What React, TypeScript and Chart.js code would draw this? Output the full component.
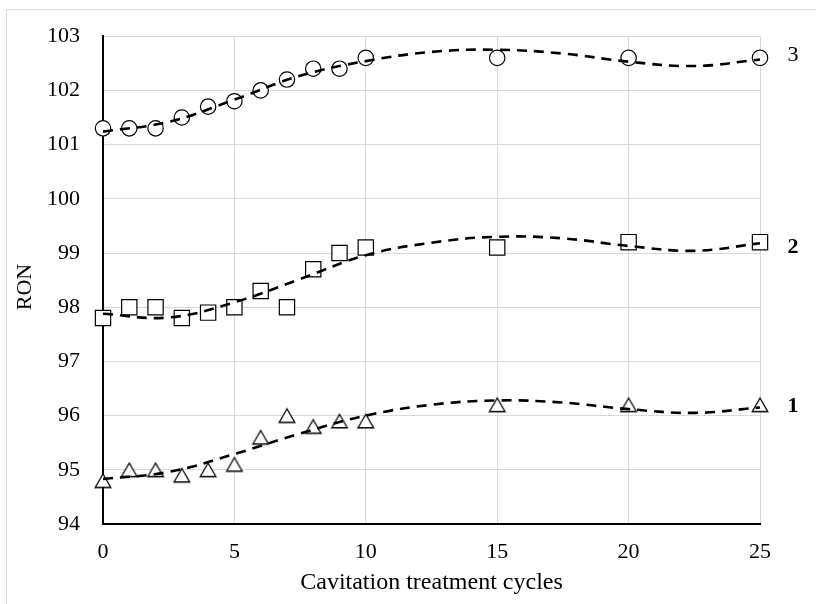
import { useEffect, useRef } from 'react';
import { Chart, registerables } from 'chart.js';

Chart.register(...registerables);

const cycles = [0, 1, 2, 3, 4, 5, 6, 7, 8, 9, 10, 15, 20, 25];
const ron1 = [94.8, 95.0, 95.0, 94.9, 95.0, 95.1, 95.6, 96.0, 95.8, 95.9, 95.9, 96.2, 96.2, 96.2];
const ron2 = [97.8, 98.0, 98.0, 97.8, 97.9, 98.0, 98.3, 98.0, 98.7, 99.0, 99.1, 99.1, 99.2, 99.2];
const ron3 = [101.3, 101.3, 101.3, 101.5, 101.7, 101.8, 102.0, 102.2, 102.4, 102.4, 102.6, 102.6, 102.6, 102.6];

const trendX = [0, 2.5, 5, 7.5, 10, 12.5, 15, 17.5, 20, 22.5, 25];
const trend1 = [94.83, 94.96, 95.29, 95.67, 96.0, 96.2, 96.28, 96.24, 96.12, 96.05, 96.15];
const trend2 = [97.88, 97.81, 98.09, 98.52, 98.96, 99.19, 99.3, 99.27, 99.13, 99.04, 99.18];
const trend3 = [101.24, 101.42, 101.83, 102.27, 102.54, 102.71, 102.75, 102.68, 102.53, 102.45, 102.57];

const seriesNames = ['1', '2', '3'];
const seriesNameAt = [96.18, 99.1, 102.64];
const seriesNameBold = [true, true, false];

const xTitle = 'Cavitation treatment cycles';
const yTitle = 'RON';
const yMin = 94;
const yMax = 103;
const xMin = 0;
const xMax = 25;

const FONT = '"Liberation Serif", "Times New Roman", serif';

function makeTriangle(): HTMLCanvasElement {
  const c = document.createElement('canvas');
  c.width = 20;
  c.height = 18;
  const ctx = c.getContext('2d')!;
  const cx = 10, cy = 9, w = 15.6, h = 13.5;
  ctx.beginPath();
  ctx.moveTo(cx, cy - h / 2);
  ctx.lineTo(cx + w / 2, cy + h / 2);
  ctx.lineTo(cx - w / 2, cy + h / 2);
  ctx.closePath();
  ctx.fillStyle = '#ffffff';
  ctx.fill();
  ctx.lineWidth = 1.3;
  ctx.strokeStyle = '#000000';
  ctx.stroke();
  return c;
}

const labelsPlugin = {
  id: 'extraLabels',
  afterDraw(chart: any) {
    const { ctx, chartArea, scales } = chart;
    ctx.save();
    ctx.fillStyle = '#000';
    ctx.font = `22px ${FONT}`;
    ctx.textAlign = 'center';
    ctx.textBaseline = 'middle';
    ctx.translate(25, 287);
    ctx.rotate(-Math.PI / 2);
    ctx.fillText(yTitle, 0, 0);
    ctx.restore();
    ctx.save();
    ctx.fillStyle = '#000';
    ctx.textAlign = 'center';
    ctx.textBaseline = 'middle';
    seriesNames.forEach((n, i) => {
      ctx.font = `${seriesNameBold[i] ? 'bold ' : ''}22px ${FONT}`;
      ctx.fillText(n, chartArea.right + 33, scales.y.getPixelForValue(seriesNameAt[i]));
    });
    ctx.restore();
  },
};

export default function App() {
  const ref = useRef<HTMLCanvasElement>(null);
  useEffect(() => {
    const tri = makeTriangle();
    const pts = (ys: number[]) => cycles.map((x, i) => ({ x, y: ys[i] }));
    const tpts = (ys: number[]) => trendX.map((x, i) => ({ x, y: ys[i] }));
    const trendStyle = {
      borderColor: '#000',
      borderWidth: 2.6,
      borderDash: [10, 7],
      pointRadius: 0,
      tension: 0.4,
      fill: false,
      order: 0,
      clip: false,
    };
    const markerStyle = {
      showLine: false,
      borderColor: '#000',
      backgroundColor: '#fff',
      pointBorderWidth: 1.2,
      order: 1,
      clip: false,
    };
    const chart = new Chart(ref.current!, {
      type: 'line',
      data: {
        datasets: [
          { ...trendStyle, data: tpts(trend3) } as any,
          { ...trendStyle, data: tpts(trend2) } as any,
          { ...trendStyle, data: tpts(trend1) } as any,
          { ...markerStyle, data: pts(ron3), pointStyle: 'circle', pointRadius: 7.7 } as any,
          { ...markerStyle, data: pts(ron2), pointStyle: 'rect', pointRadius: 10.8 } as any,
          { ...markerStyle, data: pts(ron1), pointStyle: tri, pointRadius: 9 } as any,
        ],
      },
      options: {
        responsive: false,
        animation: false,
        events: [],
        layout: { padding: { left: 0, right: 56, top: 33, bottom: 0 } },
        plugins: { legend: { display: false }, tooltip: { enabled: false } },
        scales: {
          x: {
            type: 'linear',
            min: xMin,
            max: xMax,
            ticks: { stepSize: 5, padding: 15, color: '#000', font: { family: FONT, size: 22 } },
            grid: { color: '#d9d9d9', lineWidth: 1, drawTicks: false },
            border: { color: '#000', width: 2 },
            title: { display: true, text: xTitle, color: '#000', font: { family: FONT, size: 24 }, padding: { top: 0, bottom: 7 } },
            afterFit: (s: any) => { s.height = 80; },
          },
          y: {
            type: 'linear',
            min: yMin,
            max: yMax,
            ticks: { stepSize: 1, padding: 23, color: '#000', font: { family: FONT, size: 22 } },
            grid: { color: '#d9d9d9', lineWidth: 1, drawTicks: false },
            border: { color: '#000', width: 2 },
            afterFit: (s: any) => { s.width = 103; },
          },
        },
      },
      plugins: [labelsPlugin],
    });
    return () => chart.destroy();
  }, []);
  return (
    <div style={{ position: 'fixed', left: 0, top: 0, width: 816, height: 604, background: '#fff' }}>
      <div style={{ position: 'absolute', left: 6, top: 9, width: 900, height: 700, borderLeft: '1px solid #d9d9d9', borderTop: '1px solid #d9d9d9' }} />
      <canvas ref={ref} width={816} height={604} style={{ position: 'absolute', left: 0, top: 0 }} />
    </div>
  );
}
